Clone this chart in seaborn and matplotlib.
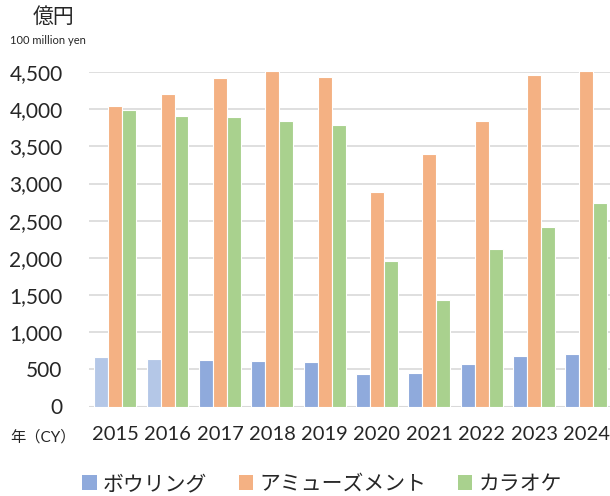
import pandas as pd
import matplotlib.pyplot as plt
import seaborn as sns
from matplotlib.patches import Patch

years = ["2015", "2016", "2017", "2018", "2019", "2020", "2021", "2022", "2023", "2024"]
series_names = ["ボウリング", "アミューズメント", "カラオケ"]
bowling = [665, 636, 627, 618, 600, 432, 450, 568, 673, 704]
amusement = [4045, 4207, 4419, 4510, 4436, 2880, 3403, 3837, 4456, 4520]
karaoke = [3995, 3910, 3896, 3838, 3792, 1956, 1437, 2117, 2417, 2731]
y_ticks = [0, 500, 1000, 1500, 2000, 2500, 3000, 3500, 4000, 4500]

colors = ["#8faadc", "#f4b183", "#a9d18e"]
light_bowling = "#b4c7e7"

df = pd.DataFrame({
    "year": years * 3,
    "series": [s for s in series_names for _ in years],
    "value": bowling + amusement + karaoke,
})

sns.set_style("white")
plt.rcParams["font.family"] = ["Lato", "Noto Sans CJK JP", "DejaVu Sans"]

fig = plt.figure(figsize=(6.1, 4.96), dpi=100)
ax = fig.add_axes([89 / 610, (496 - 406.5) / 496, 521 / 610, 334.5 / 496])

sns.barplot(data=df, x="year", y="value", hue="series", palette=colors, saturation=1,
            width=0.8, edgecolor="white", linewidth=0.8, legend=False, ax=ax)

# first two bowling years are drawn in a lighter blue
for i in (0, 1):
    ax.containers[0].patches[i].set_facecolor(light_bowling)

ax.set_ylim(0, 4500)
ax.set_xlim(-0.5, 9.45)
ax.set_yticks(y_ticks)
ax.set_yticklabels([f"{v:,}" for v in y_ticks])
ax.yaxis.grid(True, color="#d9d9d9", linewidth=1.2)
ax.set_axisbelow(True)
for s in ax.spines.values():
    s.set_visible(False)
ax.axhline(0, color="#d9d9d9", linewidth=1.5, zorder=0)
ax.tick_params(axis="y", length=0, pad=19, labelsize=15)
ax.tick_params(axis="x", length=0, pad=14, labelsize=14.5)
ax.set_xlabel("")
ax.set_ylabel("")

fig.text(33 / 610, 1 - 17 / 496, "億円", fontsize=15, va="center", ha="left")
fig.text(10 / 610, 1 - 40 / 496, "100 million yen", fontsize=8, va="center", ha="left")
fig.text(10 / 610, 1 - 437 / 496, "年（CY）", fontsize=11, va="center", ha="left")

handles = [Patch(facecolor=c, edgecolor="none") for c in colors]
fig.legend(handles, series_names, loc="center", bbox_to_anchor=(322 / 610, 1 - 484 / 496),
           ncol=3, frameon=False, fontsize=15, handlelength=0.7, handleheight=0.7,
           handletextpad=0.3, columnspacing=1.5)

fig.savefig("out.png", dpi=100)
